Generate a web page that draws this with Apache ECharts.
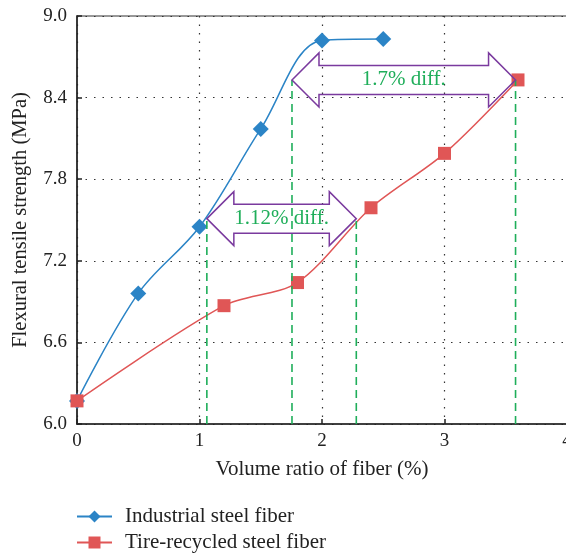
<!DOCTYPE html>
<html>
<head>
<meta charset="utf-8">
<script src="https://cdn.jsdelivr.net/npm/echarts@6/dist/echarts.min.js"></script>
<style>
html,body{margin:0;padding:0;background:#fff;}
#chart{width:566px;height:554px;}
</style>
</head>
<body>
<div id="chart"></div>
<script>
// ---- data ----
const industrialX = [0, 0.5, 1, 1.5, 2, 2.5];
const industrialY = [6.17, 6.96, 7.45, 8.17, 8.82, 8.83];
const recycledX = [0, 1.2, 1.8, 2.4, 3, 3.6];
const recycledY = [6.17, 6.87, 7.04, 7.59, 7.99, 8.53];
const diffFrom = [1.06, 1.755];
const diffTo = [2.28, 3.58];
const diffLevel = [7.51, 8.53];
const diffLabels = ['1.12% diff.', '1.7% diff.'];
const seriesNames = ['Industrial steel fiber', 'Tire-recycled steel fiber'];
const xAxisTitle = 'Volume ratio of fiber (%)';
const yAxisTitle = 'Flexural tensile strength (MPa)';

const FONT = '"Liberation Serif", "DejaVu Serif", serif';
const chart = echarts.init(document.getElementById('chart'), null, {renderer: 'canvas'});

const pair = (xs, ys) => xs.map((x, i) => [x, ys[i]]);
const diffData = diffFrom.map((f, i) => [f, diffTo[i], diffLevel[i], i]);

function renderArrow(params, api) {
  const x1 = api.value(0), x2 = api.value(1), y = api.value(2);
  const idx = api.value(3);
  const p1 = api.coord([x1, y]);
  const p2 = api.coord([x2, y]);
  const b1 = api.coord([x1, 6.0]);
  const b2 = api.coord([x2, 6.0]);
  const hh = 27, hs = 14.5, hl = 27;
  const cy = p1[1];
  const pts = [
    [p1[0], cy],
    [p1[0] + hl, cy - hh],
    [p1[0] + hl, cy - hs],
    [p2[0] - hl, cy - hs],
    [p2[0] - hl, cy - hh],
    [p2[0], cy],
    [p2[0] - hl, cy + hh],
    [p2[0] - hl, cy + hs],
    [p1[0] + hl, cy + hs],
    [p1[0] + hl, cy + hh]
  ];
  const dashStyle = {stroke: '#1fae5a', lineWidth: 1.6, lineDash: [8, 5], fill: null};
  return {
    type: 'group',
    children: [
      {type: 'line', shape: {x1: b1[0], y1: b1[1], x2: p1[0], y2: p1[1]}, style: dashStyle},
      {type: 'line', shape: {x1: b2[0], y1: b2[1], x2: p2[0], y2: p2[1]}, style: dashStyle},
      {type: 'polygon', shape: {points: pts}, style: {stroke: '#7a3a9e', lineWidth: 1.5, fill: null}},
      {type: 'text', x: (p1[0] + p2[0]) / 2, y: cy,
        style: {text: diffLabels[idx], fill: '#1fae5a', font: '21px ' + FONT, align: 'center', verticalAlign: 'middle'}}
    ]
  };
}

const option = {
  backgroundColor: '#fff',
  animation: false,
  grid: {left: 77, top: 16, width: 490, bottom: 130, containLabel: false, outerBoundsMode: 'none',
    show: true, borderColor: '#777', borderWidth: 1.5, backgroundColor: 'transparent'},
  legend: {
    orient: 'vertical', left: 76, top: 506, padding: 0, itemGap: 5, itemWidth: 35, itemHeight: 15,
    data: seriesNames,
    textStyle: {fontFamily: FONT, fontSize: 21, color: '#222', padding: [0, 0, 0, 8]}
  },
  xAxis: {
    type: 'value', min: 0, max: 4, interval: 1,
    name: xAxisTitle, nameLocation: 'middle', nameGap: 35,
    nameTextStyle: {fontFamily: FONT, fontSize: 21, color: '#222'},
    axisLine: {lineStyle: {color: '#222', width: 1.6}},
    axisTick: {inside: true, length: 5, lineStyle: {color: '#222', width: 1.5}},
    axisLabel: {fontFamily: FONT, fontSize: 19, color: '#222', margin: 8},
    splitLine: {show: true, lineStyle: {color: '#333', width: 1.2, type: [1.5, 7]}}
  },
  yAxis: {
    type: 'value', min: 6.0, max: 9.0, interval: 0.6,
    name: yAxisTitle, nameLocation: 'middle', nameGap: 46,
    nameTextStyle: {fontFamily: FONT, fontSize: 20.5, color: '#222'},
    axisLine: {show: true, lineStyle: {color: '#222', width: 1.6}},
    axisTick: {show: true, inside: true, length: 5, lineStyle: {color: '#222', width: 1.5}},
    axisLabel: {fontFamily: FONT, fontSize: 19, color: '#222', margin: 10, formatter: v => v.toFixed(1)},
    splitLine: {show: true, lineStyle: {color: '#333', width: 1.2, type: [1.5, 7]}}
  },
  series: [
    {
      name: seriesNames[0], type: 'line', smooth: 0.35,
      data: pair(industrialX, industrialY),
      symbol: 'diamond', symbolSize: 16,
      lineStyle: {color: '#2b84c6', width: 1.5},
      itemStyle: {color: '#2b84c6'},
      z: 3
    },
    {
      name: seriesNames[1], type: 'line', smooth: 0.3,
      data: pair(recycledX, recycledY),
      symbol: 'rect', symbolSize: 13,
      lineStyle: {color: '#e05656', width: 1.5},
      itemStyle: {color: '#e05656'},
      z: 4
    },
    {
      type: 'custom', silent: true, renderItem: renderArrow,
      data: diffData, encode: {x: [0, 1], y: 2},
      z: 5
    }
  ]
};
chart.setOption(option);
</script>
</body>
</html>
